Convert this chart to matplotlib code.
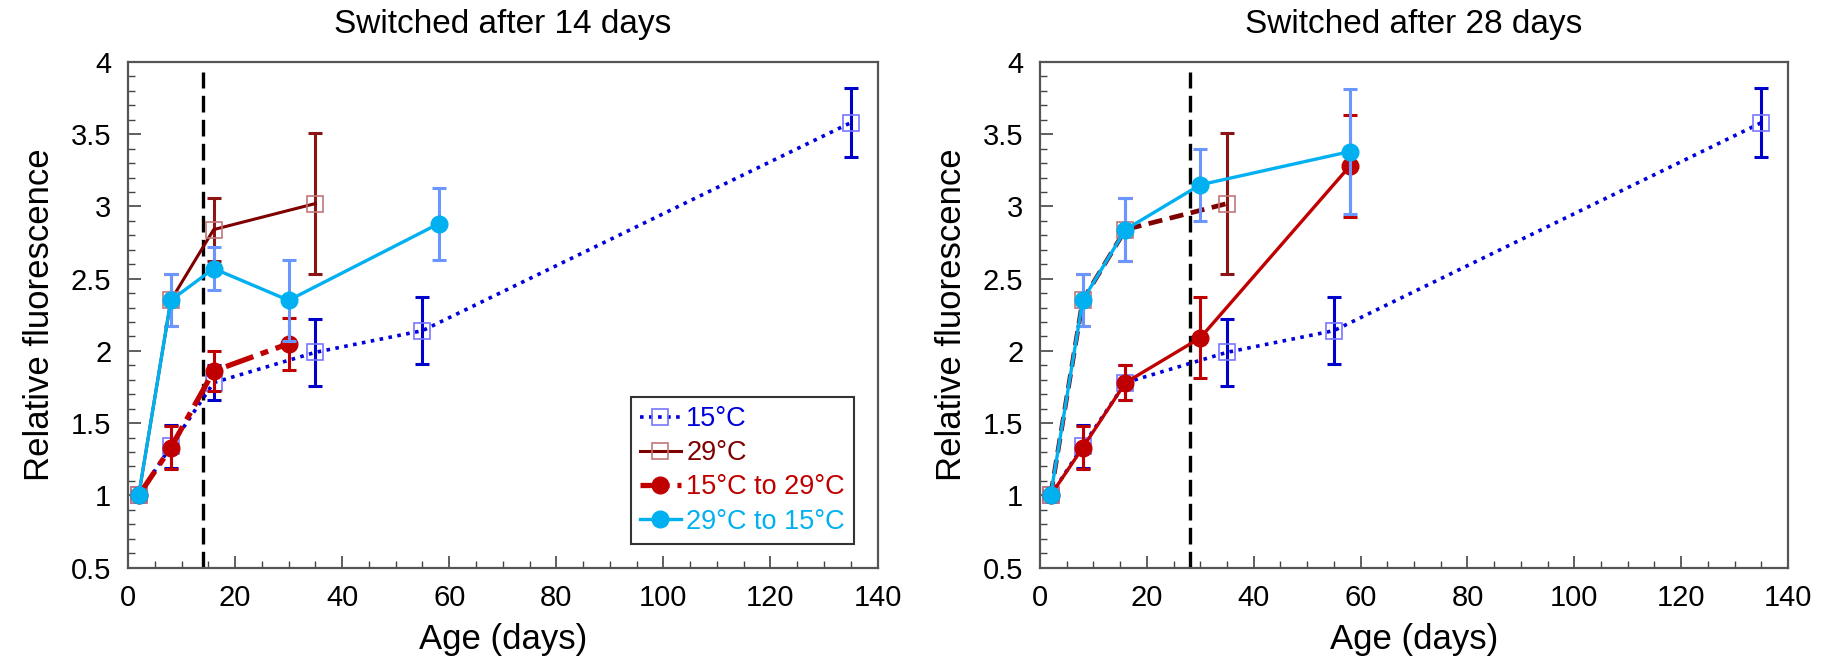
import numpy as np
import matplotlib
matplotlib.use("Agg")
import matplotlib.pyplot as plt
from matplotlib.lines import Line2D

plt.rcParams['font.family'] = ['Liberation Sans', 'DejaVu Sans']

# ---------------- data ----------------
titles = ["Switched after 14 days", "Switched after 28 days"]
switch_days = [14, 28]

# constant-temperature series (same in both panels)
x15 = [2, 8, 16, 35, 55, 135]
y15 = [1.00, 1.34, 1.78, 1.99, 2.14, 3.58]
e15 = [0.00, 0.15, 0.12, 0.23, 0.23, 0.24]

x29 = [2, 8, 16, 35]
y29 = [1.00, 2.35, 2.84, 3.02]
e29 = [0.00, 0.18, 0.22, 0.49]

# switched after 14 days
x15to29_a = [2, 8, 16, 30]
y15to29_a = [1.00, 1.33, 1.86, 2.05]
e15to29_a = [0.00, 0.15, 0.14, 0.18]

x29to15_a = [2, 8, 16, 30, 58]
y29to15_a = [1.00, 2.35, 2.57, 2.35, 2.88]
e29to15_a = [0.00, 0.18, 0.15, 0.28, 0.25]

# switched after 28 days
x15to29_b = [2, 8, 16, 30, 58]
y15to29_b = [1.00, 1.33, 1.78, 2.09, 3.28]
e15to29_b = [0.00, 0.15, 0.12, 0.28, 0.35]

x29to15_b = [2, 8, 16, 30, 58]
y29to15_b = [1.00, 2.35, 2.84, 3.15, 3.38]
e29to15_b = [0.00, 0.18, 0.22, 0.25, 0.43]

labels = ["15°C", "29°C", "15°C to 29°C", "29°C to 15°C"]

# ---------------- styles ----------------
C_BLUE = '#0000DD'
C_BLUE_ERR = '#0000CC'
C_BLUE_MK = '#7777FF'
C_DRED = '#7F0000'
C_DRED_ERR = '#8B1515'
C_DRED_MK = '#C07878'
C_RED = '#C00000'
C_LBLUE = '#00B0F0'
C_LBLUE_ERR = '#6B95FF'

DOT = (0, (1, 1.5))


def err_plot(ax, x, y, e, ecolor, z):
    x = np.asarray(x, float); y = np.asarray(y, float); e = np.asarray(e, float)
    m = e > 0
    ax.errorbar(x[m], y[m], yerr=e[m], fmt='none', ecolor=ecolor,
                elinewidth=2.2, capsize=5, capthick=2.2, zorder=z)


fig = plt.figure(figsize=(18.21, 6.57), dpi=100)
ax_a = fig.add_axes([0.0703, 0.1362, 0.4116, 0.7694])
ax_b = fig.add_axes([0.5711, 0.1362, 0.4108, 0.7694])

panels = [
    (ax_a, x15to29_a, y15to29_a, e15to29_a, x29to15_a, y29to15_a, e29to15_a),
    (ax_b, x15to29_b, y15to29_b, e15to29_b, x29to15_b, y29to15_b, e29to15_b),
]

for i, (ax, xr, yr, er, xc, yc, ec) in enumerate(panels):
    # switch day
    ax.axvline(switch_days[i], ymin=0, ymax=0.98, color='black', lw=2.4,
               dashes=(5, 2.2), zorder=1)

    # 15 C
    err_plot(ax, x15, y15, e15, C_BLUE_ERR, 2)
    ax.plot(x15, y15, linestyle=DOT, color=C_BLUE, lw=2.6,
            marker='s', markersize=12, markerfacecolor='none',
            markeredgecolor=C_BLUE_MK, markeredgewidth=1.2, zorder=3)

    # 29 C
    err_plot(ax, x29, y29, e29, C_DRED_ERR, 2)
    if i == 0:
        ax.plot(x29, y29, linestyle='-', color=C_DRED, lw=2.2,
                marker='s', markersize=12, markerfacecolor='none',
                markeredgecolor=C_DRED_MK, markeredgewidth=1.2, zorder=4)
    else:
        ax.plot(x29, y29, color=C_DRED, lw=3.4, dashes=(3, 1.6),
                marker='s', markersize=12, markerfacecolor='none',
                markeredgecolor=C_DRED_MK, markeredgewidth=1.2, zorder=4)

    # 15 C -> 29 C
    err_plot(ax, xr, yr, er, C_RED, 5)
    if i == 0:
        ax.plot(xr, yr, color=C_RED, lw=3.8, dashes=(5.5, 1.5, 1.5, 1.5),
                marker='o', markersize=12, markerfacecolor=C_RED,
                markeredgecolor=C_RED, zorder=6)
    else:
        ax.plot(xr, yr, color=C_RED, lw=2.4, linestyle='-',
                marker='o', markersize=12, markerfacecolor=C_RED,
                markeredgecolor=C_RED, zorder=6)

    # 29 C -> 15 C
    err_plot(ax, xc, yc, ec, C_LBLUE_ERR, 7)
    ax.plot(xc, yc, color=C_LBLUE, lw=2.4, linestyle='-',
            marker='o', markersize=12, markerfacecolor=C_LBLUE,
            markeredgecolor=C_LBLUE, zorder=8)

    ax.set_xlim(0, 140)
    ax.set_ylim(0.5, 4)
    ax.set_xticks(np.arange(0, 141, 20))
    ax.set_xticks(np.arange(0, 141, 5), minor=True)
    ax.set_yticks(np.arange(0.5, 4.01, 0.5))
    ax.set_yticks(np.arange(0.5, 4.01, 0.1), minor=True)
    ax.set_yticklabels(['0.5', '1', '1.5', '2', '2.5', '3', '3.5', '4'])
    ax.tick_params(which='both', direction='in', top=False, right=False,
                   color='#444444')
    ax.tick_params(which='major', length=9, width=1.2, labelsize=21, pad=12)
    ax.tick_params(which='minor', length=5, width=1.0)
    for s in ax.spines.values():
        s.set_color('#555555')
        s.set_linewidth(1.6)
    ax.set_xlabel("Age (days)", fontsize=25, labelpad=8)
    ax.set_ylabel("Relative fluorescence", fontsize=25, labelpad=11)
    ax.set_title(titles[i], fontsize=24, pad=21)

# legend in left panel
handles = [
    Line2D([], [], linestyle=DOT, color=C_BLUE, lw=2.6, marker='s',
           markersize=12, markerfacecolor='none', markeredgecolor=C_BLUE_MK,
           markeredgewidth=1.2),
    Line2D([], [], linestyle='-', color=C_DRED, lw=2.2, marker='s',
           markersize=12, markerfacecolor='none', markeredgecolor=C_DRED_MK,
           markeredgewidth=1.2),
    Line2D([], [], color=C_RED, lw=3.8, dashes=(5.5, 1.5, 1.5, 1.5), marker='o',
           markersize=12, markerfacecolor=C_RED, markeredgecolor=C_RED),
    Line2D([], [], linestyle='-', color=C_LBLUE, lw=2.4, marker='o',
           markersize=12, markerfacecolor=C_LBLUE, markeredgecolor=C_LBLUE),
]
leg = ax_a.legend(handles, labels, loc='lower right',
                  bbox_to_anchor=(0.969, 0.0465), borderaxespad=0,
                  fontsize=19.5, handlelength=1.5, handletextpad=0.2,
                  labelspacing=0.3, borderpad=0.35, fancybox=False,
                  framealpha=1, edgecolor='#333333')
leg.get_frame().set_linewidth(1.5)
for t, c in zip(leg.get_texts(), [C_BLUE, C_DRED, C_RED, C_LBLUE]):
    t.set_color(c)
leg.set_zorder(20)

fig.savefig("out.png", dpi=100)
